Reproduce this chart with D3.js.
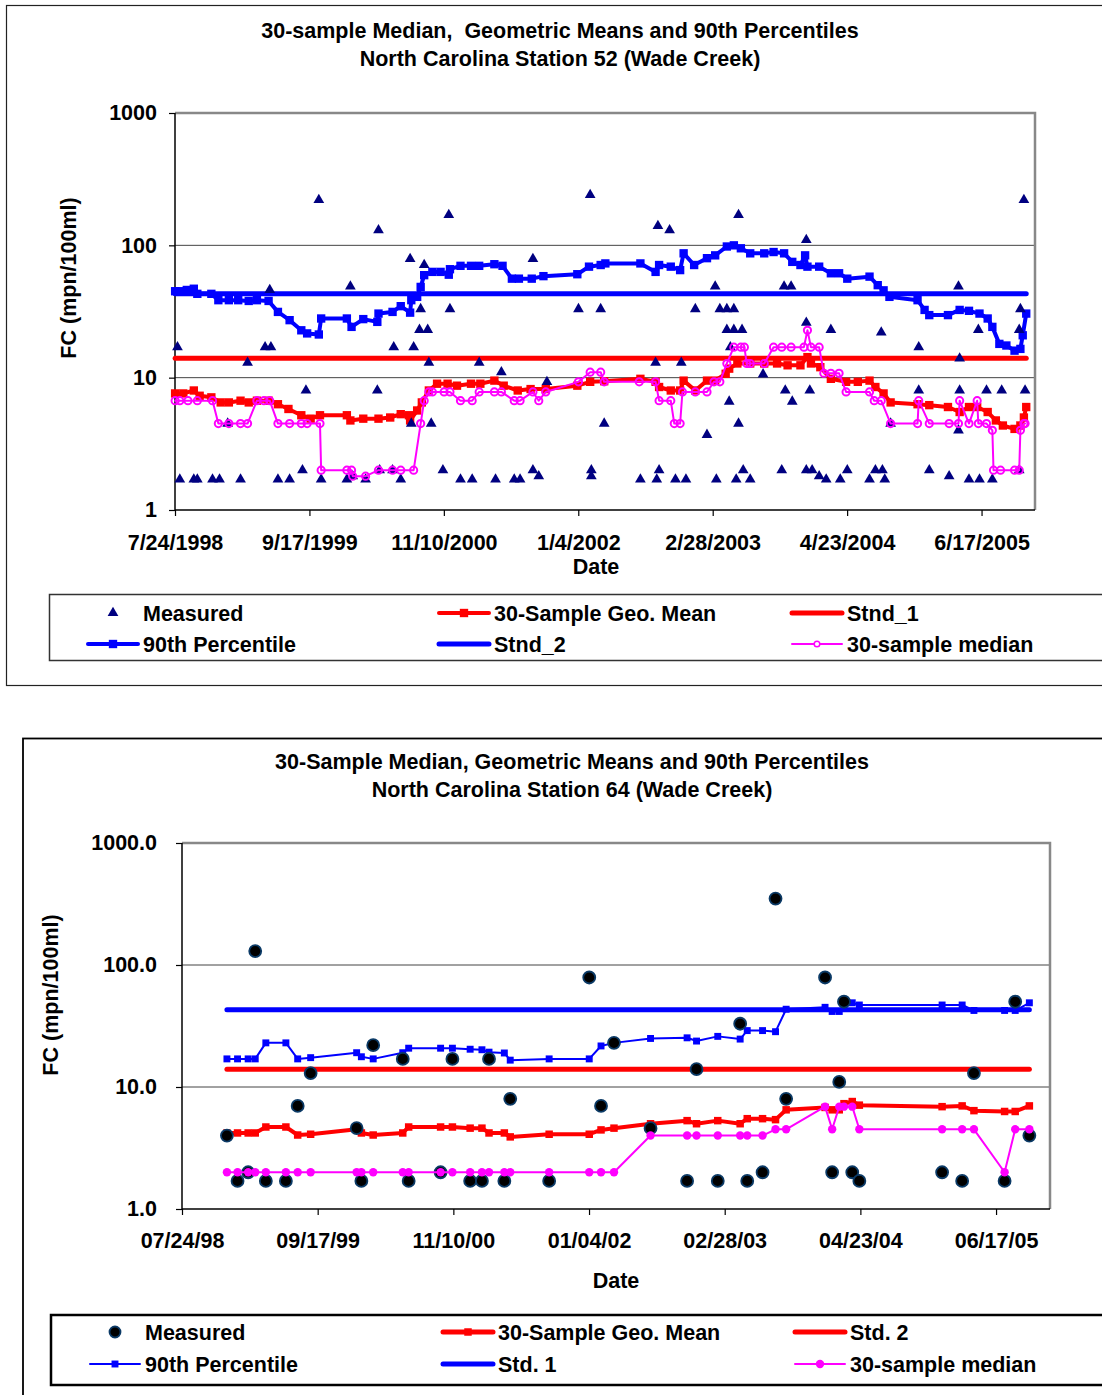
<!DOCTYPE html>
<html lang="en">
<head>
<meta charset="UTF-8" />
<title>Wade Creek - Fecal Coliform</title>
<script src="https://d3js.org/d3.v7.min.js"></script>
<style>
  body { margin: 0; background: #fff; }
  svg text {
    font-family: "Liberation Sans", Arial, sans-serif;
    font-weight: bold;
    font-size: 21.5px;
    fill: #000;
    white-space: pre;
  }
</style>
</head>
<body>
<svg id="chart" width="1102" height="1395"></svg>
<script>
// ---------- Station 52 (values as [decimal year, mpn/100ml]) ----------
const st52Measured = [
  [1998.58,17],[1998.60,1.7],[1998.72,1.7],[1998.75,1.7],[1998.88,1.7],[1998.94,1.7],[1999.01,4.5],
  [1999.12,1.7],[1999.18,13],[1999.33,17],[1999.37,46],[1999.38,17],[1999.44,1.7],[1999.54,1.7],
  [1999.65,2.0],[1999.68,8],[1999.79,220],[1999.81,1.7],[2000.03,1.7],[2000.06,49],[2000.08,1.8],
  [2000.19,1.7],[2000.29,8],[2000.30,130],[2000.31,2.0],[2000.42,2.0],[2000.43,17],[2000.49,1.7],
  [2000.57,79],[2000.58,4.5],[2000.60,17],[2000.65,23],[2000.66,33],[2000.69,71],[2000.72,23],
  [2000.73,13],[2000.75,4.5],[2000.85,2.0],[2000.90,170],[2000.91,33],[2001.00,1.7],[2001.10,1.7],
  [2001.16,13],[2001.30,1.7],[2001.35,11],[2001.46,1.7],[2001.51,1.7],[2001.62,2.0],[2001.62,79],
  [2001.67,1.8],[2001.74,9.3],[2002.01,33],[2002.11,240],[2002.12,2.0],[2002.12,1.8],[2002.20,33],
  [2002.23,4.5],[2002.54,1.7],[2002.67,13],[2002.68,1.7],[2002.69,140],[2002.70,2.0],[2002.79,130],
  [2002.84,1.7],[2002.89,13],[2002.93,1.7],[2003.01,33],[2003.11,3.7],[2003.18,49],[2003.19,1.7],
  [2003.22,33],[2003.28,33],[2003.28,23],[2003.30,6.6],[2003.31,17],[2003.34,33],[2003.34,23],
  [2003.36,1.7],[2003.38,170],[2003.38,4.5],[2003.41,23],[2003.42,2.0],[2003.48,1.7],[2003.59,10.6],
  [2003.75,2.0],[2003.77,49],[2003.78,8],[2003.83,49],[2003.84,6.6],[2003.96,110],[2003.96,2.0],
  [2003.96,26],[2003.99,8],[2004.01,2.0],[2004.07,1.8],[2004.13,1.7],[2004.17,23],[2004.25,1.7],
  [2004.31,2.0],[2004.50,1.7],[2004.55,2.0],[2004.60,22],[2004.61,2.0],[2004.63,1.7],[2004.68,4.5],
  [2004.92,17],[2004.92,8],[2005.01,2.0],[2005.18,1.8],[2005.26,49],[2005.26,4.0],[2005.27,14],
  [2005.27,8],[2005.35,1.7],[2005.43,23],[2005.44,1.7],[2005.50,8],[2005.55,1.7],[2005.63,8],
  [2005.78,2.0],[2005.78,23],[2005.79,33],[2005.82,220],[2005.83,8]
];
const st52Pct90 = [
  [1998.56,45],[1998.60,45],[1998.66,46],[1998.72,47],[1998.75,43],[1998.87,43],[1998.93,38.5],
  [1999.02,38.5],[1999.10,38.5],[1999.19,38],[1999.26,38.5],[1999.36,38],[1999.44,31.4],[1999.54,27.2],
  [1999.64,22.8],[1999.69,21.6],[1999.79,21.2],[1999.81,28],[2000.03,28],[2000.07,24.2],[2000.17,27.7],
  [2000.29,26.4],[2000.30,30.5],[2000.42,31.4],[2000.49,34.7],[2000.57,31],[2000.58,38.5],[2000.63,40.8],
  [2000.66,48.5],[2000.69,59.5],[2000.76,63],[2000.83,63],[2000.90,60],[2000.91,66],[2001.00,70],
  [2001.09,70],[2001.16,70],[2001.29,72],[2001.36,70],[2001.44,56],[2001.50,56],[2001.61,56],
  [2001.71,58.5],[2002.00,60.5],[2002.10,69],[2002.20,71],[2002.24,73],[2002.54,73],[2002.67,63],
  [2002.70,71],[2002.80,69],[2002.88,65],[2002.91,87],[2003.00,71],[2003.11,80],[2003.18,84],
  [2003.28,98],[2003.34,100],[2003.40,95],[2003.48,87],[2003.60,87],[2003.68,89],[2003.77,87],
  [2003.84,75],[2003.91,71],[2003.95,84],[2003.97,69],[2004.07,69],[2004.17,61.5],[2004.24,61.5],
  [2004.31,56],[2004.50,58],[2004.57,50],[2004.62,45.7],[2004.67,40.8],[2004.91,38.5],[2004.97,32.5],
  [2005.01,29.7],[2005.17,29.7],[2005.27,32.5],[2005.35,32],[2005.44,30.5],[2005.51,28],[2005.55,24.2],
  [2005.61,18],[2005.67,17.5],[2005.74,16],[2005.79,16.5],[2005.81,20.9],[2005.84,30.5]
];
const st52GeoMean = [
  [1998.56,7.6],[1998.63,7.6],[1998.72,8.0],[1998.77,7.3],[1998.87,7.1],[1998.95,6.5],[1999.02,6.5],
  [1999.12,6.7],[1999.19,6.5],[1999.26,6.7],[1999.36,6.7],[1999.44,6.3],[1999.53,5.8],[1999.64,5.2],
  [1999.72,4.9],[1999.80,5.2],[2000.03,5.2],[2000.06,4.75],[2000.17,4.9],[2000.30,4.9],[2000.40,5.0],
  [2000.49,5.3],[2000.56,5.2],[2000.57,4.75],[2000.63,5.65],[2000.67,6.5],[2000.73,8.0],[2000.80,9.0],
  [2000.89,9.0],[2000.97,8.7],[2001.09,9.0],[2001.17,9.0],[2001.29,9.5],[2001.37,8.7],[2001.49,8.0],
  [2001.60,8.2],[2001.73,8.2],[2002.00,8.7],[2002.11,9.3],[2002.23,9.4],[2002.54,9.8],[2002.67,9.3],
  [2002.70,8.5],[2002.80,8.0],[2002.88,8.0],[2002.91,9.5],[2003.01,8.0],[2003.11,9.5],[2003.18,9.5],
  [2003.27,10.7],[2003.30,11.7],[2003.37,12.8],[2003.48,12.8],[2003.60,12.8],[2003.71,12.8],[2003.80,12.4],
  [2003.91,12.4],[2003.97,14.3],[2004.00,12.8],[2004.08,12.0],[2004.17,9.8],[2004.30,9.3],[2004.40,9.3],
  [2004.50,9.5],[2004.55,8.5],[2004.62,7.6],[2004.68,6.5],[2004.91,6.3],[2005.01,6.2],[2005.17,6.0],
  [2005.27,5.5],[2005.35,6.0],[2005.42,6.0],[2005.51,5.5],[2005.58,4.75],[2005.64,4.35],[2005.74,4.1],
  [2005.79,4.35],[2005.82,5.0],[2005.84,6.0]
];
const st52Median = [
  [1998.56,6.7],[1998.60,6.7],[1998.67,6.7],[1998.75,6.7],[1998.88,6.7],[1998.93,4.5],[1999.02,4.5],
  [1999.12,4.5],[1999.18,4.5],[1999.26,6.7],[1999.32,6.7],[1999.37,6.7],[1999.44,4.5],[1999.54,4.5],
  [1999.64,4.5],[1999.69,4.5],[1999.80,4.5],[1999.81,2.0],[2000.03,2.0],[2000.07,2.0],[2000.08,1.8],
  [2000.19,1.8],[2000.30,2.0],[2000.42,2.0],[2000.49,2.0],[2000.60,2.0],[2000.66,4.5],[2000.69,6.7],
  [2000.73,7.8],[2000.76,7.8],[2000.86,7.8],[2000.91,7.8],[2001.00,6.7],[2001.10,6.7],[2001.16,7.8],
  [2001.29,7.8],[2001.35,7.8],[2001.46,6.7],[2001.51,6.7],[2001.62,7.8],[2001.67,6.7],[2001.73,7.8],
  [2002.01,9.3],[2002.11,11.0],[2002.20,11.0],[2002.23,9.3],[2002.53,9.3],[2002.67,9.3],[2002.70,6.7],
  [2002.80,6.7],[2002.83,4.5],[2002.88,4.5],[2002.90,7.8],[2003.01,7.8],[2003.11,7.8],[2003.17,9.3],
  [2003.22,9.3],[2003.28,12.8],[2003.34,17],[2003.40,17],[2003.43,17],[2003.45,12.8],[2003.48,12.8],
  [2003.60,12.8],[2003.68,17],[2003.75,17],[2003.83,17],[2003.94,17],[2003.97,22.8],[2004.00,17],
  [2004.07,17],[2004.11,10.8],[2004.17,10.8],[2004.24,10.8],[2004.30,7.8],[2004.50,7.8],[2004.54,6.7],
  [2004.60,6.7],[2004.68,4.5],[2004.91,4.5],[2004.92,6.7],[2005.01,4.5],[2005.18,4.5],[2005.26,4.5],
  [2005.27,6.7],[2005.35,4.5],[2005.42,6.7],[2005.43,4.5],[2005.50,4.5],[2005.55,4.0],[2005.56,2.0],
  [2005.62,2.0],[2005.74,2.0],[2005.78,2.0],[2005.79,4.0],[2005.82,4.5],[2005.83,4.5]
];
const st52Stnd1 = 14;
const st52Stnd2 = 43;
const st52Ticks = ["7/24/1998","9/17/1999","11/10/2000","1/4/2002","2/28/2003","4/23/2004","6/17/2005"];

// ---------- Station 64 (one date per sample) ----------
const st64Dates = [
  1998.94,1999.03,1999.12,1999.18,1999.27,1999.44,1999.54,1999.65,
  2000.04,2000.08,2000.18,2000.43,2000.48,2000.75,2000.85,
  2001.00,2001.10,2001.16,2001.29,2001.34,2001.67,
  2002.01,2002.11,2002.22,2002.53,2002.84,2002.92,
  2003.10,2003.29,2003.35,2003.48,2003.59,2003.68,
  2004.01,2004.07,2004.13,2004.17,2004.24,2004.30,
  2005.00,2005.17,2005.27,2005.53,2005.62,2005.74
];
const st64Measured = [
  4.0,1.7,2.0,130,1.7,1.7,7.0,13,
  4.6,1.7,22,17,1.7,2.0,17,
  1.7,1.7,17,1.7,8.0,1.7,
  79,7.0,23,4.6,1.7,14,
  1.7,33,1.7,2.0,350,8.0,
  79,2.0,11,50,2.0,1.7,
  2.0,1.7,13,1.7,50,4.0
];
const st64Pct90 = [
  17,17,17,17,23,23,17,17.4,
  19.1,17.7,17,19.1,20.8,20.8,20.8,
  20.4,20.2,19.3,19,16.6,17,
  17,21.7,23,25,25.3,23.8,
  26,24.7,29,29,28.4,43.4,
  45,41.6,41.6,45.5,49,47,
  47,47,42.4,42.4,42.4,49
];
const st64GeoMean = [
  4.2,4.2,4.2,4.2,4.7,4.7,4.04,4.1,
  4.5,4.2,4.04,4.2,4.7,4.7,4.7,
  4.6,4.6,4.2,4.2,3.9,4.1,
  4.1,4.45,4.6,5.0,5.3,5.0,
  5.3,5.0,5.5,5.5,5.4,6.5,
  6.8,6.5,6.5,7.3,7.6,7.1,
  6.9,7.0,6.4,6.3,6.3,7.0
];
const st64Median = [
  2,2,2,2,2,2,2,2,
  2,2,2,2,2,2,2,
  2,2,2,2,2,2,
  2,2,2,4,4,4,
  4,4,4,4,4.5,4.5,
  6.9,4.5,6.9,6.9,6.9,4.5,
  4.5,4.5,4.5,2,4.5,4.5
];
const st64Std1 = 43;
const st64Std2 = 14;
const st64Ticks = ["07/24/98","09/17/99","11/10/00","01/04/02","02/28/03","04/23/04","06/17/05"];

const yTickValues = [1, 10, 100, 1000];
const axisStart = new Date(1998, 6, 24);
const axisEnd = new Date(2005, 11, 1);

// decimal year -> Date
function toDate(yr) {
  const y0 = Math.floor(yr);
  const a = new Date(y0, 0, 1), b = new Date(y0 + 1, 0, 1);
  return new Date(+a + (yr - y0) * (b - a));
}

const svg = d3.select("#chart");

function drawMarkers(g, pts, m) {
  if (m.kind === "circle") {
    g.selectAll(null).data(pts).join("circle")
      .attr("cx", d => d[0]).attr("cy", d => d[1]).attr("r", m.r)
      .attr("fill", m.fill).attr("stroke", m.stroke || "none")
      .attr("stroke-width", m.sw || 0);
  } else {
    const sym = d3.symbol().type(m.kind === "square" ? d3.symbolSquare : d3.symbolTriangle).size(m.size);
    g.selectAll(null).data(pts).join("path")
      .attr("transform", d => `translate(${d[0]},${d[1]})`)
      .attr("d", sym).attr("fill", m.fill);
  }
}

function drawSeries(g, pts, s) {
  if (s.lineWidth) {
    g.append("path").attr("d", d3.line()(pts))
      .attr("fill", "none").attr("stroke", s.color)
      .attr("stroke-width", s.lineWidth)
      .attr("stroke-linejoin", "round").attr("stroke-linecap", "round");
  }
  if (s.marker) drawMarkers(g, pts, s.marker);
}

function drawPanel(p) {
  const g = svg.append("g");

  g.append("rect").attr("x", p.frame[0]).attr("y", p.frame[1])
    .attr("width", 1200).attr("height", p.frame[2])
    .attr("fill", "none").attr("stroke", p.frameColor).attr("stroke-width", p.frameWidth);

  p.title.forEach((t, i) => {
    g.append("text").attr("x", p.titleX).attr("y", p.titleY[i])
      .attr("text-anchor", "middle").attr("dy", "0.35em").text(t);
  });

  const x = d3.scaleTime().domain([axisStart, axisEnd]).range([p.x0, p.x1]);
  const y = d3.scaleLog().domain([1, 1000]).range([p.y1, p.y0]);

  // gridlines
  g.selectAll(null).data([10, 100]).join("line")
    .attr("x1", p.x0).attr("x2", p.x1).attr("y1", d => y(d)).attr("y2", d => y(d))
    .attr("stroke", "#444").attr("stroke-width", 1);

  // plot area border (top / right)
  g.append("path").attr("d", `M${p.x0},${p.y0}H${p.x1}V${p.y1}`)
    .attr("fill", "none").attr("stroke", "#888").attr("stroke-width", 2.5);

  const yAxis = g.append("g").attr("transform", `translate(${p.x0},0)`)
    .call(d3.axisLeft(y).tickValues(yTickValues).tickFormat(p.yFmt).tickSize(6).tickPadding(p.yPad));
  const tickDates = p.ticks.map(p.parse);
  const xAxis = g.append("g").attr("transform", `translate(0,${p.y1})`)
    .call(d3.axisBottom(x).tickValues(tickDates).tickFormat((d, i) => p.ticks[i]).tickSize(6).tickPadding(p.xPad));
  [yAxis, xAxis].forEach(a => {
    a.attr("font-size", null).attr("font-family", null);
    a.selectAll("path.domain").attr("stroke", "#000").attr("stroke-width", 1.5);
    a.selectAll(".tick line").attr("stroke", "#000").attr("stroke-width", 1.2);
  });
  xAxis.select("path.domain").attr("d", `M${p.x0},0H${p.x1}`);
  yAxis.select("path.domain").attr("d", `M0,${p.y1}V${p.y0}`);

  g.append("text").attr("transform", `translate(${p.yLabel[0]},${p.yLabel[1]}) rotate(-90)`)
    .attr("text-anchor", "middle").attr("dy", "0.35em").text("FC (mpn/100ml)");
  g.append("text").attr("x", p.dateLabel[0]).attr("y", p.dateLabel[1])
    .attr("text-anchor", "middle").attr("dy", "0.35em").text("Date");

  // series
  const plot = g.append("g");
  p.series.forEach(s => {
    const pts = s.data.map(d => [x(toDate(d[0])), y(d[1])]);
    drawSeries(plot.append("g"), pts, s);
  });

  // legend
  g.append("rect").attr("x", p.legendBox[0]).attr("y", p.legendBox[1])
    .attr("width", 1200).attr("height", p.legendBox[2])
    .attr("fill", "none").attr("stroke", p.legendStroke).attr("stroke-width", p.legendStrokeWidth);
  p.legend.forEach(item => {
    const s = p.series.find(d => d.name === item.name);
    const [cx, cy] = item.at;
    const lg = g.append("g");
    if (s.lineWidth) {
      lg.append("line").attr("x1", cx - 25).attr("x2", cx + 25).attr("y1", cy).attr("y2", cy)
        .attr("stroke", s.color).attr("stroke-width", s.legendWidth || s.lineWidth)
        .attr("stroke-linecap", "round");
    }
    if (s.marker) drawMarkers(lg, [[cx, cy]], s.legendMarker || s.marker);
    lg.append("text").attr("x", cx + 30).attr("y", cy).attr("dy", "0.35em").text(item.label);
  });
}

const st52Span = [st52GeoMean[0][0], st52GeoMean[st52GeoMean.length - 1][0]];
drawPanel({
  frame: [6.5, 5.5, 680], frameColor: "#222", frameWidth: 1.2,
  title: ["30-sample Median,  Geometric Means and 90th Percentiles", "North Carolina Station 52 (Wade Creek)"],
  titleX: 560, titleY: [30, 58],
  x0: 175, x1: 1035, y0: 113, y1: 510,
  yFmt: d3.format("d"), yPad: 12,
  ticks: st52Ticks, parse: d3.timeParse("%m/%d/%Y"), xPad: 19,
  yLabel: [68, 278], dateLabel: [596, 566],
  series: [
    { name: "stnd1", data: st52Span.map(t => [t, st52Stnd1]), color: "#ff0000", lineWidth: 5 },
    { name: "stnd2", data: st52Span.map(t => [t, st52Stnd2]), color: "#0000ff", lineWidth: 5 },
    { name: "pct90", data: st52Pct90, color: "#0000ff", lineWidth: 4,
      marker: { kind: "square", size: 70, fill: "#0000ff" } },
    { name: "geo", data: st52GeoMean, color: "#ff0000", lineWidth: 4,
      marker: { kind: "square", size: 70, fill: "#ff0000" } },
    { name: "measured", data: st52Measured,
      marker: { kind: "triangle", size: 50, fill: "#000080" } },
    { name: "median", data: st52Median, color: "#ff00ff", lineWidth: 2,
      marker: { kind: "circle", r: 3.6, fill: "none", stroke: "#ff00ff", sw: 2 },
      legendMarker: { kind: "circle", r: 2.8, fill: "#fff", stroke: "#ff00ff", sw: 1.5 } }
  ],
  legendBox: [49.5, 594.5, 66], legendStroke: "#333", legendStrokeWidth: 1.5,
  legend: [
    { name: "measured", label: "Measured", at: [113, 613] },
    { name: "geo", label: "30-Sample Geo. Mean", at: [464, 613] },
    { name: "stnd1", label: "Stnd_1", at: [817, 613] },
    { name: "pct90", label: "90th Percentile", at: [113, 644] },
    { name: "stnd2", label: "Stnd_2", at: [464, 644] },
    { name: "median", label: "30-sample median", at: [817, 644] }
  ]
});

const st64Span = [st64Dates[0], st64Dates[st64Dates.length - 1]];
const zip64 = vals => st64Dates.map((t, i) => [t, vals[i]]);
drawPanel({
  frame: [23, 738.5, 800], frameColor: "#000", frameWidth: 1.8,
  title: ["30-Sample Median, Geometric Means and 90th Percentiles", "North Carolina Station 64 (Wade Creek)"],
  titleX: 572, titleY: [761, 789],
  x0: 182, x1: 1050, y0: 843, y1: 1209,
  yFmt: d3.format(".1f"), yPad: 19,
  ticks: st64Ticks, parse: d3.timeParse("%m/%d/%y"), xPad: 18,
  yLabel: [50, 995], dateLabel: [616, 1280],
  series: [
    { name: "std1", data: st64Span.map(t => [t, st64Std1]), color: "#0000ff", lineWidth: 5 },
    { name: "std2", data: st64Span.map(t => [t, st64Std2]), color: "#ff0000", lineWidth: 5 },
    { name: "pct90", data: zip64(st64Pct90), color: "#0000ff", lineWidth: 2,
      marker: { kind: "square", size: 48, fill: "#0000ff" } },
    { name: "geo", data: zip64(st64GeoMean), color: "#ff0000", lineWidth: 4,
      marker: { kind: "square", size: 56, fill: "#ff0000" }, legendWidth: 5 },
    { name: "measured", data: zip64(st64Measured),
      marker: { kind: "circle", r: 6, fill: "#000", stroke: "#0b3a66", sw: 1.8 },
      legendMarker: { kind: "circle", r: 5.5, fill: "#000", stroke: "#0b3a66", sw: 1.8 } },
    { name: "median", data: zip64(st64Median), color: "#ff00ff", lineWidth: 2,
      marker: { kind: "circle", r: 4.2, fill: "#ff00ff" } }
  ],
  legendBox: [51, 1315, 70], legendStroke: "#000", legendStrokeWidth: 2.5,
  legend: [
    { name: "measured", label: "Measured", at: [115, 1332] },
    { name: "geo", label: "30-Sample Geo. Mean", at: [468, 1332] },
    { name: "std2", label: "Std. 2", at: [820, 1332] },
    { name: "pct90", label: "90th Percentile", at: [115, 1364] },
    { name: "std1", label: "Std. 1", at: [468, 1364] },
    { name: "median", label: "30-sample median", at: [820, 1364] }
  ]
});
</script>
</body>
</html>
